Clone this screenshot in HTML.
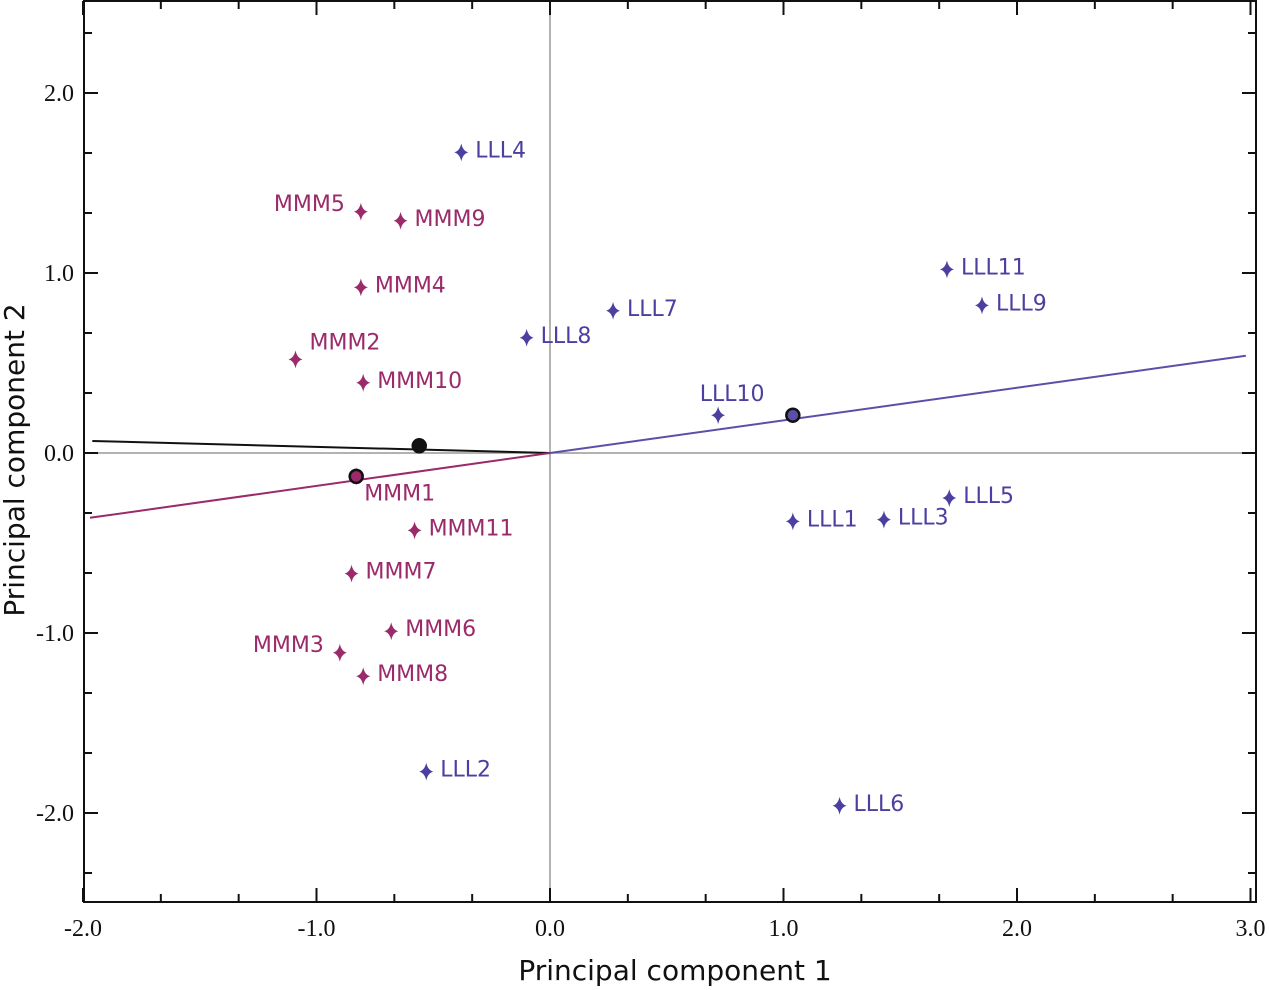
<!DOCTYPE html>
<html><head><meta charset="utf-8"><style>
body{margin:0;background:#fff;}
svg{display:block;}
.t{font-family:"Liberation Serif",serif;font-size:24px;fill:#111;}
.l{font-family:"DejaVu Sans","Liberation Sans",sans-serif;font-size:22px;}
</style></head><body>
<svg id="c" width="1269" height="990" xmlns="http://www.w3.org/2000/svg"></svg>
<script>
const names=["LLL4","MMM5","MMM9","MMM4","MMM2","MMM10","LLL8","LLL7","LLL11","LLL9","LLL10","LLL5","LLL1","LLL3","MMM1","MMM11","MMM7","MMM6","MMM3","MMM8","LLL2","LLL6"];
const pc1=[-0.38,-0.81,-0.64,-0.81,-1.09,-0.80,-0.10,0.27,1.70,1.85,0.72,1.71,1.04,1.43,-0.83,-0.58,-0.85,-0.68,-0.90,-0.80,-0.53,1.24];
const pc2=[1.67,1.34,1.29,0.92,0.52,0.39,0.64,0.79,1.02,0.82,0.21,-0.25,-0.38,-0.37,-0.13,-0.43,-0.67,-0.99,-1.11,-1.24,-1.77,-1.96];
const labelLeft=["MMM5","MMM3"];
const labelAbove=["LLL10"];
const labelUpRight=["MMM2"];
const centroidX=[-0.56,1.04,-0.83];
const centroidY=[0.04,0.21,-0.13];
const lineEndX=[-1.96,2.98,-1.97];
const lineEndY=[0.067,0.54,-0.36];
const lineColors=["#111","#5a50a8","#9b2a6a"];
const xTicks=["-2.0","-1.0","0.0","1.0","2.0","3.0"];
const yTicks=["2.0","1.0","0.0","-1.0","-2.0"];
const X=v=>550+v*233.5, Y=v=>453-v*180;
const L=84,R=1256,T=1,B=902;
const svg=document.getElementById('c');
const NS="http://www.w3.org/2000/svg";
function mk(tag,attrs,name,text){const e=document.createElementNS(NS,tag);for(const k in attrs)e.setAttribute(k,attrs[k]);


if(text!==undefined)e.textContent=text;svg.appendChild(e);return e;}
mk('line',{x1:X(0),y1:T,x2:X(0),y2:B,stroke:'#999','stroke-width':1.5},'zero-vertical-line');
mk('line',{x1:L,y1:Y(0),x2:R,y2:Y(0),stroke:'#999','stroke-width':1.5},'zero-horizontal-line');
mk('rect',{x:L,y:T,width:R-L,height:B-T,fill:'none',stroke:'#111','stroke-width':2},'plot-frame');
for(let i=0;i<=15;i++){const xv=-2+i/3; if(xv>3.01)break;const px=X(xv);const major=i%3===0;const len=major?14:8;
mk('line',{x1:px,y1:B,x2:px,y2:B-len,stroke:'#111','stroke-width':2},'x-tick');
mk('line',{x1:px,y1:T,x2:px,y2:T+len,stroke:'#111','stroke-width':2},'x-tick-top');}
for(let k=0;k<=15;k++){const yy=Math.round((-2.33+k/3)*3)/3; const py=Y(yy); if(py<T||py>B)continue;const major=Math.abs(yy-Math.round(yy))<0.01;const len=major?14:8;
mk('line',{x1:L,y1:py,x2:L+len,y2:py,stroke:'#111','stroke-width':2},'y-tick');
mk('line',{x1:R,y1:py,x2:R-len,y2:py,stroke:'#111','stroke-width':2},'y-tick-right');}
xTicks.forEach(s=>{mk('text',{x:X(parseFloat(s)),y:936,'text-anchor':'middle',class:'t'},'x-tick-label',s);});
yTicks.forEach(s=>{mk('text',{x:74,y:Y(parseFloat(s))+8,'text-anchor':'end',class:'t'},'y-tick-label',s);});
mk('text',{x:675,y:980,'text-anchor':'middle',class:'l',style:'font-size:28px;fill:#111'},'x-axis-title','Principal component 1');
mk('text',{x:0,y:0,'text-anchor':'middle',class:'l',style:'font-size:28px;fill:#111',transform:'translate(24,460) rotate(-90)'},'y-axis-title','Principal component 2');
for(let i=0;i<3;i++)mk('line',{x1:X(0),y1:Y(0),x2:X(lineEndX[i]),y2:Y(lineEndY[i]),stroke:lineColors[i],'stroke-width':2},'group-vector');
names.forEach((n,i)=>{const c=n.startsWith('M')?'#9b2a6a':'#4b3fa0';const px=X(pc1[i]),py=Y(pc2[i]);
mk('path',{d:`M${px} ${py-9}Q${px+1.5} ${py-1.5} ${px+7} ${py}Q${px+1.5} ${py+1.5} ${px} ${py+9}Q${px-1.5} ${py+1.5} ${px-7} ${py}Q${px-1.5} ${py-1.5} ${px} ${py-9}Z`,fill:c},'point-'+n.toLowerCase());
let tx=px+14,ty=py+5,an='start';
if(labelLeft.includes(n)){tx=px-16;ty=py-1;an='end';}
else if(labelAbove.includes(n)){tx=px+14;ty=py-14;an='middle';}
else if(labelUpRight.includes(n)){tx=px+14;ty=py-10;}
else if(n==='MMM1'){ty=py+24;tx=px+8;}
mk('text',{x:tx,y:ty,'text-anchor':an,class:'l',fill:c},'label-'+n.toLowerCase(),n);});
for(let i=0;i<3;i++){mk('circle',{cx:X(centroidX[i]),cy:Y(centroidY[i]),r:6.5,fill:i==0?'#111':lineColors[i],stroke:'#111','stroke-width':2.5},'group-centroid');}
</script>
</body></html>
